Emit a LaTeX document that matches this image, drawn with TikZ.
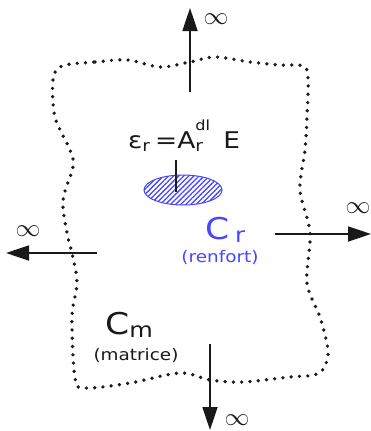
\documentclass[tikz,border=0pt]{standalone}
\usepackage{fontspec}
\setmainfont{DejaVu Sans}
\usetikzlibrary{arrows.meta,patterns.meta,shapes.geometric}
\definecolor{ink}{RGB}{25,25,25}
\definecolor{rblue}{RGB}{70,70,255}
\newcommand\hs[1]{\scalebox{1.15}[1]{#1}}
\begin{document}
\begin{tikzpicture}[x=1pt,y=-1pt,
  bound/.style={ink,line width=3.7pt,line cap=round,dash pattern=on 0pt off 8.3pt},
  farrow/.style={ink,line width=1.8pt,-{Triangle[length=23pt,width=15pt]}},
  inf/.style={ink,inner sep=0,font=\fontsize{23}{23}\selectfont},
  lbl/.style={inner sep=0,anchor=base west}]
\useasboundingbox (0,0) rectangle (371,431);
% boundary of the matrix
\draw[bound] plot[smooth cycle,tension=0.55] coordinates {
 (62,66) (95,62) (128,60) (160,67) (190,62) (215,57) (250,62) (280,65) (303,66)
 (308,78) (307,117) (305,150) (300,190) (310,233) (307,283) (320,317) (328,350) (324,368) (314,375)
 (290,377) (243,382) (210,380) (180,373) (130,383) (85,388)
 (75,378) (72,317) (77,283) (72,253) (67,233) (63,200) (73,167) (70,150) (55,117) (53,80)};
% reinforcement
\node[ellipse,draw=rblue,line width=1pt,minimum width=78pt,minimum height=30pt,inner sep=0,
  pattern={Lines[angle=45,distance=3.6pt,line width=1.3pt]},pattern color=rblue] (incl) at (183,190) {};
\coordinate (tickA) at (176,160);
\coordinate (tickB) at (176,192);
\draw[ink,line width=1.3pt] (tickA) -- (tickB);
% equation
\node[lbl,ink,font=\fontsize{23}{26}\selectfont] (eq) at (128,148)
  {\hs{ε\textsubscript{r}\,=A\rlap{\textsubscript{r}}\raisebox{0.78em}{\fontsize{14}{14}\selectfont dl}\hspace{0.5em}E}};
% labels
\node[lbl,text=rblue,font=\fontsize{30}{34}\selectfont] (cr) at (205,239) {\hs{C\,\textsubscript{r}}};
\node[inner sep=0,text=rblue,font=\fontsize{16}{18}\selectfont] (crn) at (220,257) {\hs{(renfort)}};
\node[lbl,ink,font=\fontsize{30}{34}\selectfont] (cm) at (105,334) {\hs{C\textsubscript{m}}};
\node[inner sep=0,ink,font=\fontsize{16}{18}\selectfont] (cmn) at (136,355) {\hs{(matrice)}};
% arrows to infinity
\coordinate (uS) at (190,92);  \coordinate (uE) at (190,8);
\coordinate (lS) at (97,253);  \coordinate (lE) at (6,253);
\coordinate (rS) at (275,234); \coordinate (rE) at (371,234);
\coordinate (dS) at (210,344); \coordinate (dE) at (210,430);
\draw[farrow] (uS) -- (uE);
\draw[farrow] (lS) -- (lE);
\draw[farrow] (rS) -- (rE);
\draw[farrow] (dS) -- (dE);
\node[inf] (iu) at (216,19) {$\infty$};
\node[inf] (il) at (28,231) {$\infty$};
\node[inf] (ir) at (358,208) {$\infty$};
\node[inf] (id) at (237,420) {$\infty$};
\end{tikzpicture}
\end{document}
